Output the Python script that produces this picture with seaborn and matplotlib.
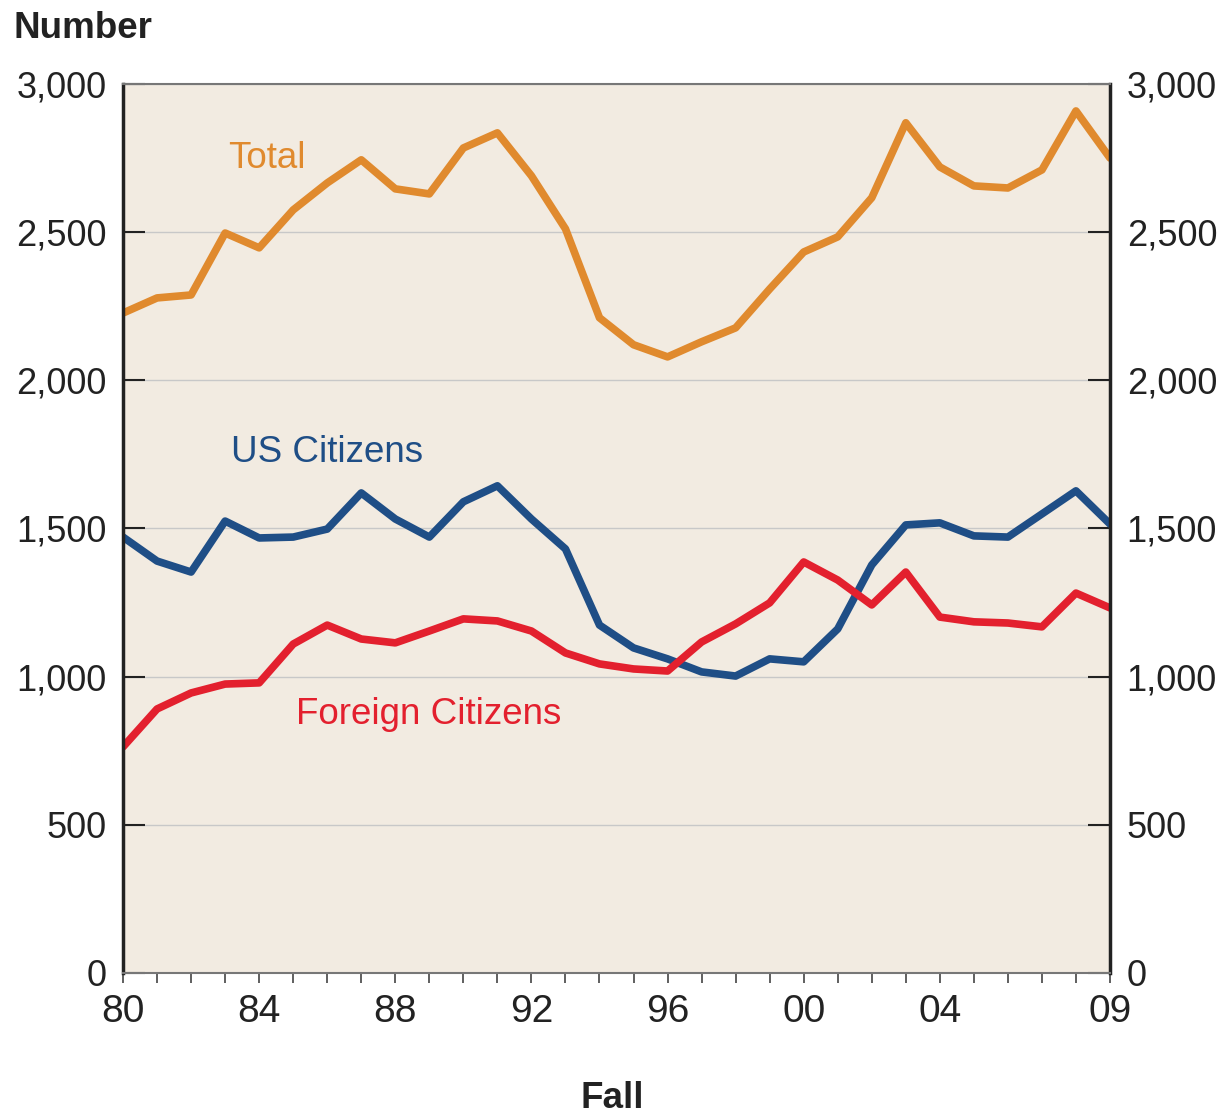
import matplotlib
matplotlib.use("Agg")
import matplotlib.pyplot as plt
from matplotlib.ticker import FuncFormatter, MultipleLocator
import pandas as pd
import seaborn as sns

years = list(range(1980, 2010))
total = [2227, 2278, 2288, 2497, 2447, 2575, 2666, 2744, 2646, 2629,
         2784, 2835, 2690, 2511, 2211, 2120, 2079, 2130, 2177, 2308,
         2433, 2484, 2616, 2869, 2720, 2656, 2649, 2710, 2909, 2750]
us_citizens = [1471, 1390, 1353, 1525, 1468, 1471, 1498, 1620, 1532, 1471,
               1590, 1644, 1532, 1431, 1174, 1097, 1060, 1016, 1002, 1060,
               1050, 1161, 1377, 1512, 1519, 1475, 1471, 1549, 1627, 1515]
foreign_citizens = [763, 891, 945, 975, 979, 1110, 1174, 1127, 1114, 1154,
                    1195, 1188, 1154, 1080, 1043, 1026, 1019, 1117, 1178, 1249,
                    1387, 1326, 1242, 1353, 1201, 1185, 1181, 1168, 1282, 1232]
xtick_years = [1980, 1984, 1988, 1992, 1996, 2000, 2004, 2009]
ytick_values = [0, 500, 1000, 1500, 2000, 2500, 3000]

df = pd.DataFrame({"year": years, "Total": total,
                   "US Citizens": us_citizens,
                   "Foreign Citizens": foreign_citizens})
long_df = df.melt(id_vars="year", var_name="series", value_name="number")

colors = {"Total": "#E08A2E", "US Citizens": "#1F4E86", "Foreign Citizens": "#E3202E"}

sns.set_style("white")
plt.rcParams["font.family"] = ["Liberation Sans", "DejaVu Sans"]

fig = plt.figure(figsize=(12.23, 11.18), dpi=100)
ax = fig.add_axes([0.1006, 0.1297, 0.807, 0.7952])
ax.set_facecolor("#F2EBE1")

sns.lineplot(data=long_df, x="year", y="number", hue="series", palette=colors,
             linewidth=5.5, legend=False, ax=ax)

ax.set_xlim(1980, 2009)
ax.set_ylim(0, 3000)
ax.set_yticks(ytick_values)
ax.yaxis.grid(True, color="#C8C8C8", linewidth=1)
ax.set_axisbelow(True)

fmt = FuncFormatter(lambda v, p: f"{int(v):,}")
ax.yaxis.set_major_formatter(fmt)
ax.set_xticks(xtick_years)
ax.set_xticklabels([f"{y % 100:02d}" for y in xtick_years])
ax.xaxis.set_minor_locator(MultipleLocator(1))
ax.tick_params(axis="x", which="both", direction="out", length=7, width=1.2,
               color="#444444", labelsize=28, pad=8, bottom=True)
ax.tick_params(axis="y", direction="in", length=16, width=1.5, color="#222222",
               labelsize=26, left=True, right=True, labelright=True, pad=12)
ax.tick_params(labelcolor="#222222", which="both")
ax.set_xlabel("")
ax.set_ylabel("")

for side in ["left", "right"]:
    ax.spines[side].set_linewidth(2.5)
    ax.spines[side].set_color("#222222")
for side in ["top", "bottom"]:
    ax.spines[side].set_linewidth(1.5)
    ax.spines[side].set_color("#777777")

ax.text(1983.09, 2750, "Total", color=colors["Total"], fontsize=26.5, va="center")
ax.text(1983.17, 1755, "US Citizens", color=colors["US Citizens"], fontsize=26.5, va="center")
ax.text(1985.08, 871, "Foreign Citizens", color=colors["Foreign Citizens"], fontsize=26.5, va="center")

fig.text(14 / 1223, 1 - 29 / 1118, "Number", fontsize=26.5, fontweight="bold",
         color="#222222", va="center", ha="left")
fig.text(612 / 1223, 1 - 1098 / 1118, "Fall", fontsize=26.5, fontweight="bold",
         color="#222222", va="center", ha="center")

fig.savefig("out.png", dpi=100)
